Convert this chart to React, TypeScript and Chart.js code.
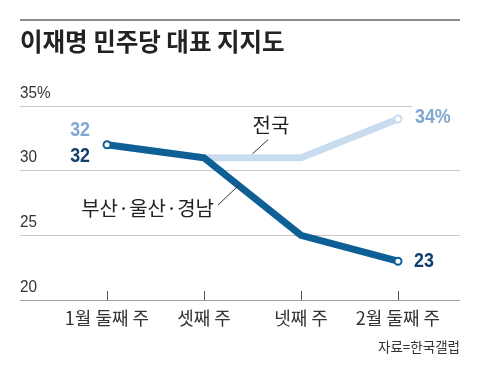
import React, { useEffect, useRef } from 'react';
import { Chart, registerables } from 'chart.js';

Chart.register(...registerables);

const categories = ['1월 둘째 주', '셋째 주', '넷째 주', '2월 둘째 주'];
const nationalValues = [32, 31, 31, 34];
const busanValues = [32, 31, 25, 23];
const yTickValues = [20, 25, 30, 35];
const yTickLabels = ['20', '25', '30', '35%'];
const titleText = '이재명 민주당 대표 지지도';
const sourceText = '자료=한국갤럽';
const nationalName = '전국';
const busanName = '부산·울산·경남';

const DARK = '#0f5f97';
const LIGHT = '#c9dcef';
const DARK_TEXT = '#12406e';
const LIGHT_TEXT = '#80a7cf';
const KR = '"Noto Sans CJK KR", "Noto Sans", sans-serif';
const NUM = '"Liberation Sans", Arial, sans-serif';

function condText(ctx: CanvasRenderingContext2D, text: string, x: number, y: number, align: CanvasTextAlign, sx: number) {
  ctx.save();
  ctx.translate(x, y);
  ctx.scale(sx, 1);
  ctx.textAlign = align;
  ctx.fillText(text, 0, 0);
  ctx.restore();
}

const annotPlugin = {
  id: 'annot',
  afterDatasetsDraw(chart: any) {
    const ctx = chart.ctx as CanvasRenderingContext2D;
    const xs = chart.scales.x;
    const ys = chart.scales.y;
    const ca = chart.chartArea;
    ctx.save();
    // top rule
    ctx.fillStyle = '#8c8c8c';
    ctx.fillRect(20, 19, 440, 2);
    // title
    ctx.font = `bold 24.5px ${KR}`;
    ctx.fillStyle = '#222';
    ctx.textBaseline = 'middle';
    ctx.textAlign = 'left';
    ctx.fillText(titleText, 20, 42);
    // y tick labels (from the y scale)
    ctx.font = `17px ${NUM}`;
    ctx.fillStyle = '#333';
    ys.ticks.forEach((t: any) => {
      const idx = yTickValues.indexOf(t.value);
      const lbl = idx >= 0 ? yTickLabels[idx] : String(t.value);
      condText(ctx, lbl, ca.left, ys.getPixelForValue(t.value) - 13, 'left', 0.9);
    });
    // x tick marks
    ctx.strokeStyle = '#555';
    ctx.lineWidth = 1;
    categories.forEach((_, i) => {
      const px = Math.round(xs.getPixelForValue(i)) + 0.5;
      ctx.beginPath();
      ctx.moveTo(px, ca.bottom - 9);
      ctx.lineTo(px, ca.bottom);
      ctx.stroke();
    });
    // leader lines
    ctx.strokeStyle = '#333';
    ctx.beginPath();
    ctx.moveTo(xs.getPixelForValue(1.5), ys.getPixelForValue(31.3));
    ctx.lineTo(xs.getPixelForValue(1.66), ys.getPixelForValue(32.4));
    ctx.moveTo(xs.getPixelForValue(1.144), ys.getPixelForValue(27.34));
    ctx.lineTo(xs.getPixelForValue(1.361), ys.getPixelForValue(28.89));
    ctx.stroke();
    // series labels
    ctx.font = `20px ${KR}`;
    ctx.fillStyle = '#222';
    ctx.textAlign = 'left';
    ctx.fillText(nationalName, xs.getPixelForValue(1.5), ys.getPixelForValue(33.5));
    ctx.textAlign = 'center';
    ctx.fillText(busanName, xs.getPixelForValue(0.418), ys.getPixelForValue(27.1));
    // value labels
    ctx.font = `bold 21px ${NUM}`;
    const x0 = xs.getPixelForValue(0);
    const x3 = xs.getPixelForValue(3);
    ctx.fillStyle = LIGHT_TEXT;
    condText(ctx, String(nationalValues[0]), x0 - 17, ys.getPixelForValue(nationalValues[0]) - 15, 'right', 0.85);
    ctx.fillStyle = DARK_TEXT;
    condText(ctx, String(busanValues[0]), x0 - 17, ys.getPixelForValue(busanValues[0]) + 11, 'right', 0.85);
    const yN = ys.getPixelForValue(nationalValues[3]) - 2;
    ctx.fillStyle = '#fff';
    ctx.fillRect(x3 + 14, yN - 11, 70, 24);
    ctx.fillStyle = LIGHT_TEXT;
    condText(ctx, `${nationalValues[3]}%`, x3 + 17, yN, 'left', 0.85);
    ctx.fillStyle = DARK_TEXT;
    condText(ctx, String(busanValues[3]), x3 + 16, ys.getPixelForValue(busanValues[3]), 'left', 0.85);
    // source
    ctx.font = `13.5px ${KR}`;
    ctx.fillStyle = '#333';
    ctx.textAlign = 'right';
    ctx.fillText(sourceText, 460, 347);
    ctx.restore();
  },
};

export default function App() {
  const ref = useRef<HTMLCanvasElement>(null);
  useEffect(() => {
    if (!ref.current) return;
    const chart = new Chart(ref.current, {
      type: 'line',
      data: {
        datasets: [
          {
            label: busanName,
            data: busanValues.map((v, i) => ({ x: i, y: v })),
            borderColor: DARK,
            borderWidth: 7,
            pointRadius: [3.5, 0, 0, 3.5],
            pointBackgroundColor: '#fff',
            pointBorderColor: DARK,
            pointBorderWidth: 2,
            tension: 0,
          },
          {
            label: nationalName,
            data: nationalValues.map((v, i) => ({ x: i, y: v })),
            borderColor: LIGHT,
            borderWidth: 7,
            pointRadius: [0, 0, 0, 3.5],
            pointBackgroundColor: '#fff',
            pointBorderColor: LIGHT,
            pointBorderWidth: 2,
            tension: 0,
          },
        ],
      },
      options: {
        animation: false,
        responsive: false,
        devicePixelRatio: 1,
        layout: { padding: { left: 20, right: 20, top: 106, bottom: 38.4 } },
        plugins: { legend: { display: false }, tooltip: { enabled: false }, title: { display: false } },
        scales: {
          x: {
            type: 'linear',
            min: -87 / 97,
            max: 3 + 62 / 97,
            afterBuildTicks: (scale: any) => {
              scale.ticks = categories.map((_, i) => ({ value: i }));
            },
            grid: { display: false, drawTicks: false },
            border: { display: false },
            ticks: {
              padding: 7,
              autoSkip: false,
              maxRotation: 0,
              color: '#333',
              font: { family: KR, size: 18 },
              callback: (v: any) => categories[v] ?? '',
            },
          },
          y: {
            min: 20,
            max: 35,
            afterBuildTicks: (scale: any) => {
              scale.ticks = yTickValues.map((v) => ({ value: v }));
            },
            grid: {
              drawTicks: false,
              color: (c: any) => (c.tick && c.tick.value === 20 ? '#a0a0a0' : '#c8c8c8'),
              lineWidth: 1,
            },
            border: { display: false },
            ticks: { display: false },
          },
        },
      },
      plugins: [annotPlugin],
    });
    return () => chart.destroy();
  }, []);
  return (
    <div style={{ position: 'fixed', left: 0, top: 0, width: 480, height: 374, background: '#fff' }}>
      <canvas ref={ref} width={480} height={374} style={{ display: 'block', width: 480, height: 374 }} />
    </div>
  );
}
